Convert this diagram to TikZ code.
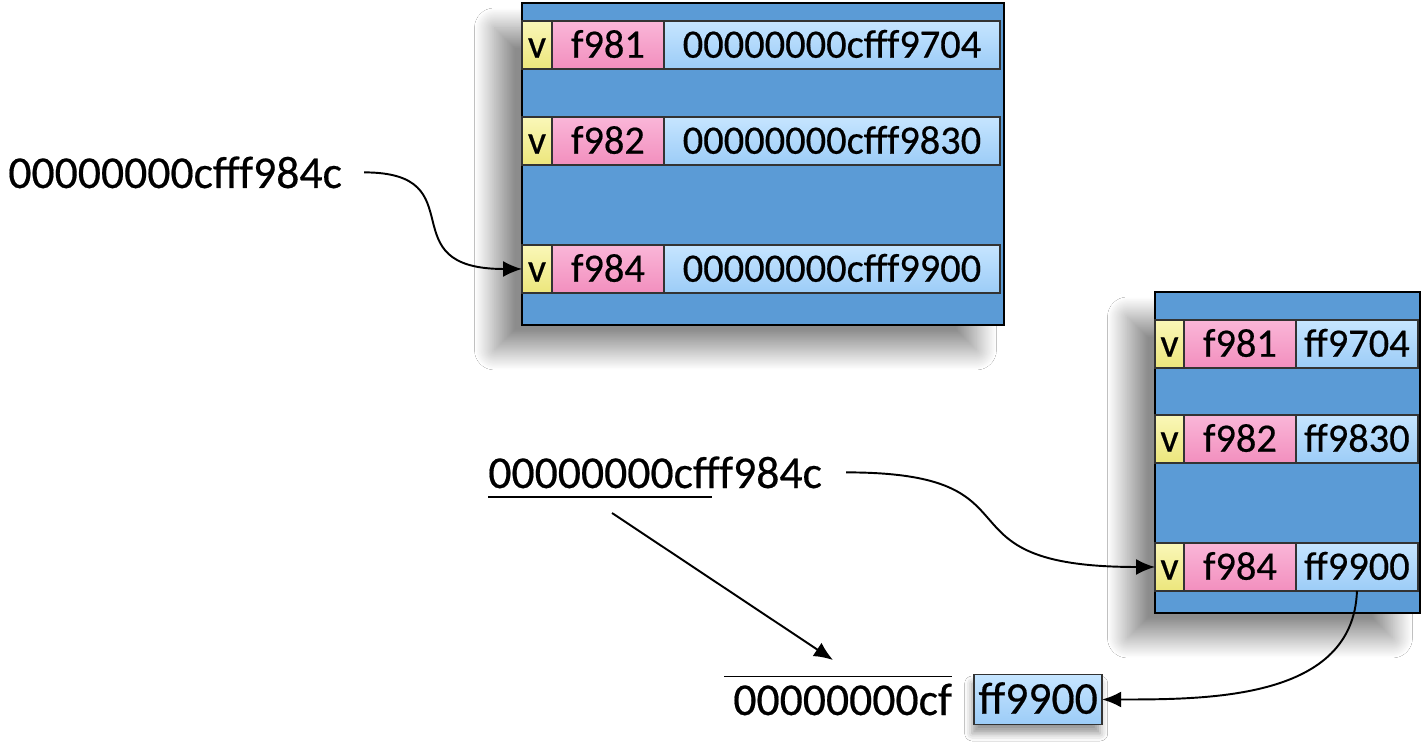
\documentclass[tikz,border=0pt]{standalone}
\usepackage{fontspec}
\setmainfont{Carlito}[FakeBold=0.4]
\usetikzlibrary{arrows.meta, positioning, shadows.blur}

\definecolor{frameblue}{RGB}{91,155,214}
\definecolor{datablue}{RGB}{156,204,247}
\definecolor{datatop}{RGB}{198,229,255}
\definecolor{tagpink}{RGB}{242,143,190}
\definecolor{tagtop}{RGB}{250,182,216}
\definecolor{vyellow}{RGB}{236,230,124}
\definecolor{vtop}{RGB}{250,247,184}

\begin{document}
\begin{tikzpicture}[
  x=0.02cm, y=-0.02cm,
  tblframe/.style={draw=black, line width=1pt, fill=frameblue, inner sep=0pt, outer sep=0pt,
               blur shadow={shadow xshift=-0.55cm, shadow yshift=-0.5cm,
                            shadow blur radius=0.4cm, shadow blur steps=48, shadow opacity=45}},
  cell/.style={draw=black!80, line width=0.8pt, inner sep=0pt, outer sep=0pt,
               minimum height=0.96cm, text height=0.51cm, text depth=0pt,
               font=\fontsize{23}{27}\selectfont},
  vbit/.style={cell, top color=vtop, bottom color=vyellow, minimum width=0.6cm},
  tagc/.style={cell, top color=tagtop, bottom color=tagpink, minimum width=2.24cm},
  datac/.style={cell, top color=datatop, bottom color=datablue, minimum width=6.72cm},
  addr/.style={inner sep=0pt, font=\fontsize{26}{30}\selectfont},
  bitline/.style={line width=0.9pt},
  link/.style={->, line width=1.1pt},
  >={Latex[length=0.38cm, width=0.32cm]}, node distance=0pt
]
  \useasboundingbox[fill=white] (0,0) rectangle (1421,743);

  % Full-width table
  \node[tblframe, minimum width=9.64cm, minimum height=6.44cm, anchor=north west] (topT) at (522,3) {};
  \node[vbit, anchor=north west] (tv1) at (522,21) {v};
  \node[tagc, right=of tv1] (tt1) {f981};
  \node[datac, right=of tt1] (td1) {00000000cfff9704};
  \node[vbit, anchor=north west] (tv2) at (522,117) {v};
  \node[tagc, right=of tv2] (tt2) {f982};
  \node[datac, right=of tt2] (td2) {00000000cfff9830};
  \node[vbit, anchor=north west] (tv3) at (522,245) {v};
  \node[tagc, right=of tv3] (tt3) {f984};
  \node[datac, right=of tt3] (td3) {00000000cfff9900};

  % Compressed table
  \node[tblframe, minimum width=5.3cm, minimum height=6.42cm, anchor=north west] (botT) at (1155,292) {};
  \node[vbit, minimum width=0.58cm, anchor=north west] (bv1) at (1155,320) {v};
  \node[tagc, right=of bv1] (bt1) {f981};
  \node[datac, minimum width=2.44cm, right=of bt1] (bd1) {ff9704};
  \node[vbit, minimum width=0.58cm, anchor=north west] (bv2) at (1155,415) {v};
  \node[tagc, right=of bv2] (bt2) {f982};
  \node[datac, minimum width=2.44cm, right=of bt2] (bd2) {ff9830};
  \node[vbit, minimum width=0.58cm, anchor=north west] (bv3) at (1155,543) {v};
  \node[tagc, right=of bv3] (bt3) {f984};
  \node[datac, minimum width=2.44cm, right=of bt3] (bd3) {ff9900};

  % Addresses
  \node[addr, anchor=base west] (addrA) at (8,188) {00000000cfff984c};
  \node[addr, anchor=base west] (addrB) at (488,488) {00000000cfff984c};
  \node[addr, anchor=base west] (addrC) at (733,715) {00000000cf};
  \node[datac, minimum width=2.56cm, minimum height=1cm, text height=0.57cm,
        font=\fontsize{26}{30}\selectfont,
        blur shadow={shadow xshift=-0.04cm, shadow yshift=-0.18cm, shadow blur radius=0.15cm, shadow opacity=40},
        right=0.44cm of addrC] (res) {ff9900};

  \draw[bitline] ([yshift=-0.18cm]addrB.base west) -- ++(224,0);
  \draw[bitline] ([xshift=-0.18cm, yshift=0.14cm]addrC.north west) -- ([yshift=0.14cm]addrC.north east);

  % Edges
  \coordinate (cutS) at (612,513);
  \coordinate (cutE) at (833,660);
  \draw[link, shorten <=0.44cm] (addrA.east) to[out=0, in=180, looseness=1.7] (tv3.west);
  \draw[link, shorten <=0.48cm] (addrB.east) to[out=0, in=180, looseness=1.7] (bv3.west);
  \draw[link] (bd3.south) to[out=-92, in=0] (res.east);
  \draw[link] (cutS) -- (cutE);
\end{tikzpicture}
\end{document}
